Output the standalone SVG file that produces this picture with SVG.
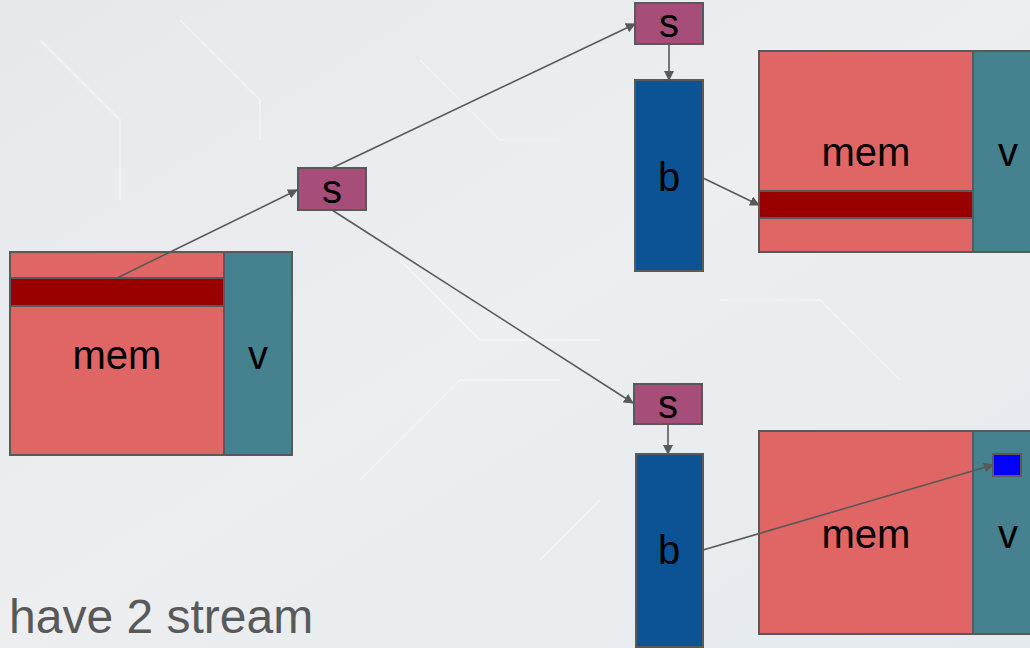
<svg xmlns="http://www.w3.org/2000/svg" width="1030" height="648" viewBox="0 0 1030 648">
  <style>
    .box { stroke: #595959; stroke-width: 2; }
    .mem { fill: #e06666; }
    .row { fill: #990000; }
    .v { fill: #45818e; }
    .s { fill: #a64d79; }
    .b { fill: #0b5394; }
    .cell { fill: #0000ff; }
    .lbl { font-family: "Liberation Sans", Arial, sans-serif; font-size: 40px; fill: #000; text-anchor: middle; }
    .edge { stroke: #595959; stroke-width: 1.6; fill: none; marker-end: url(#arrow); }
    .title { font-family: "Liberation Sans", Arial, sans-serif; font-size: 48px; fill: #595959; }
    .trace { stroke: #ffffff; stroke-width: 2; fill: none; opacity: 0.35; }
  </style>
  <defs>
    <marker id="arrow" viewBox="0 0 10 10" refX="9" refY="5" markerWidth="10" markerHeight="10" markerUnits="userSpaceOnUse" orient="auto">
      <path d="M0,0 L10,5 L0,10 z" fill="#595959"/>
    </marker>
    <linearGradient id="bg" x1="0" y1="0" x2="1" y2="1">
      <stop offset="0" stop-color="#e6e9ec"/>
      <stop offset="0.5" stop-color="#eceef0"/>
      <stop offset="1" stop-color="#e4eaee"/>
    </linearGradient>
  </defs>

  <!-- backdrop -->
  <rect x="0" y="0" width="1030" height="648" fill="url(#bg)"/>
  <g id="backdrop-traces">
    <path class="trace" d="M40,40 L120,120 L120,200"/>
    <path class="trace" d="M180,20 L260,100 L260,140"/>
    <path class="trace" d="M420,60 L500,140 L560,140"/>
    <path class="trace" d="M400,260 L480,340 L600,340"/>
    <path class="trace" d="M360,480 L460,380 L560,380"/>
    <path class="trace" d="M720,300 L820,300 L900,380"/>
    <path class="trace" d="M540,560 L600,500"/>
  </g>

  <!-- source memory -->
  <g id="src">
    <rect class="box mem" x="10" y="252" width="214" height="203"/>
    <rect class="box row" x="10" y="278" width="214" height="28"/>
    <rect class="box v" x="224" y="252" width="68" height="203"/>
    <text class="lbl" x="117" y="369">mem</text>
    <text class="lbl" x="258" y="369">v</text>
  </g>

  <!-- splitter -->
  <g id="split">
    <rect class="box s" x="298" y="168" width="68" height="42"/>
    <text class="lbl" x="332" y="203">s</text>
  </g>

  <!-- upper stream -->
  <g id="s-top">
    <rect class="box s" x="635" y="3" width="68" height="41"/>
    <text class="lbl" x="669" y="37">s</text>
  </g>
  <g id="b-top">
    <rect class="box b" x="635" y="80" width="68" height="191"/>
    <text class="lbl" x="669" y="191">b</text>
  </g>
  <g id="dst-top">
    <rect class="box mem" x="759" y="51" width="214" height="201"/>
    <rect class="box row" x="759" y="191" width="214" height="27"/>
    <rect class="box v" x="973" y="51" width="70" height="201"/>
    <text class="lbl" x="866" y="166">mem</text>
    <text class="lbl" x="1008" y="166">v</text>
  </g>

  <!-- lower stream -->
  <g id="s-bot">
    <rect class="box s" x="634" y="384" width="68" height="40"/>
    <text class="lbl" x="668" y="418">s</text>
  </g>
  <g id="b-bot">
    <rect class="box b" x="636" y="454" width="67" height="193"/>
    <text class="lbl" x="669" y="564">b</text>
  </g>
  <g id="dst-bot">
    <rect class="box mem" x="759" y="431" width="214" height="203"/>
    <rect class="box v" x="973" y="431" width="70" height="203"/>
    <rect class="box cell" x="993" y="454" width="28" height="22"/>
    <text class="lbl" x="866" y="548">mem</text>
    <text class="lbl" x="1008" y="548">v</text>
  </g>

  <!-- connectors -->
  <g id="edges">
    <line class="edge" x1="117" y1="278" x2="297" y2="190"/>
    <line class="edge" x1="332" y1="168" x2="635" y2="24"/>
    <line class="edge" x1="332" y1="210" x2="633" y2="403"/>
    <line class="edge" x1="669" y1="44" x2="669" y2="80"/>
    <line class="edge" x1="668" y1="424" x2="668" y2="454"/>
    <line class="edge" x1="703" y1="178" x2="759" y2="205"/>
    <line class="edge" x1="703" y1="550" x2="993" y2="465"/>
  </g>

  <text class="title" x="9" y="633">have 2 stream</text>
</svg>
